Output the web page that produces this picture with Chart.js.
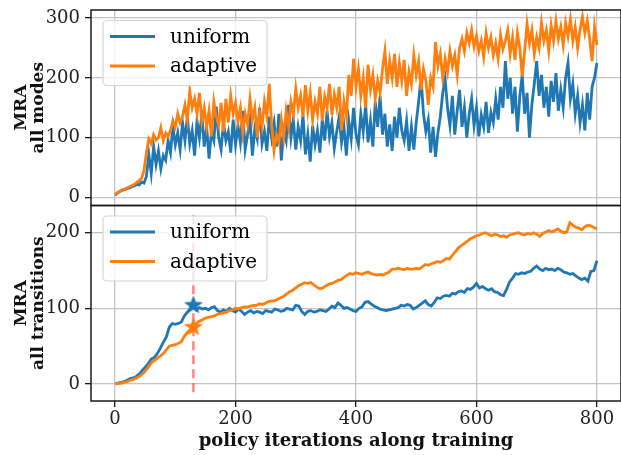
<!DOCTYPE html>
<html lang="en">
<head>
  <meta charset="utf-8" />
  <title>MRA during training</title>
  <script src="https://cdn.jsdelivr.net/npm/chart.js@4.4.1/dist/chart.umd.min.js"></script>
  <style>
    html, body { margin: 0; padding: 0; background: #fff; }
    #wrap { width: 621px; height: 455px; }
  </style>
</head>
<body>
<div id="wrap"><canvas id="c" width="621" height="455"></canvas></div>
<script>
// policy iterations: top panel sampled every 4, bottom panel every 5
const topStep = 4
const botStep = 5

// MRA, all modes (top panel)
const uniformModes = [
  4, 7, 10, 12, 13, 15, 16, 18, 19, 22, 21, 26, 24, 35, 72, 40, 85, 55, 78, 48,
  70, 62, 95, 75, 118, 88, 108, 80, 125, 95, 135, 90, 112, 70, 128, 100, 140, 85, 118, 65,
  110, 95, 152, 100, 80, 125, 95, 110, 75, 130, 88, 120, 92, 145, 80, 105, 130, 70, 115, 98,
  150, 90, 110, 78, 135, 100, 125, 85, 140, 62, 112, 95, 155, 100, 130, 80, 118, 95, 138, 72,
  105, 60, 120, 88, 112, 75, 130, 95, 145, 102, 125, 82, 110, 135, 92, 118, 70, 128, 98, 150,
  105, 88, 140, 110, 155, 92, 128, 85, 160, 118, 170, 105, 140, 85, 122, 78, 135, 100, 150, 112,
  95, 128, 78, 118, 80, 125, 160, 202, 140, 110, 130, 75, 118, 68, 108, 135, 175, 198, 150, 120,
  170, 105, 145, 180, 118, 150, 100, 140, 165, 120, 150, 102, 138, 118, 160, 108, 142, 125, 165, 130,
  185, 150, 228, 165, 200, 140, 185, 110, 170, 205, 140, 175, 100, 155, 190, 228, 170, 205, 150, 185,
  135, 195, 160, 208, 145, 180, 150, 200, 225, 165, 190, 140, 170, 125, 155, 112, 175, 130, 185, 200,
  225
]
const adaptiveModes = [
  5, 8, 11, 13, 14, 16, 18, 20, 22, 25, 28, 32, 45, 75, 98, 90, 105, 96, 100, 117,
  95, 108, 102, 112, 128, 118, 140, 125, 135, 155, 130, 178, 150, 165, 140, 175, 128, 150, 118, 145,
  102, 160, 135, 120, 158, 110, 165, 125, 170, 140, 158, 128, 150, 108, 140, 122, 165, 130, 150, 100,
  142, 118, 160, 135, 190, 120, 78, 105, 92, 130, 100, 145, 118, 160, 140, 182, 150, 170, 135, 188,
  145, 175, 130, 160, 140, 185, 128, 168, 150, 190, 138, 172, 150, 185, 112, 160, 135, 205, 170, 232,
  185, 215, 170, 200, 150, 222, 180, 205, 165, 195, 175, 215, 245, 190, 228, 200, 240, 185, 225, 195,
  230, 170, 210, 190, 238, 205, 228, 180, 215, 195, 155, 200, 185, 260, 220, 240, 200, 232, 210, 245,
  220, 238, 205, 250, 265, 245, 275, 258, 280, 252, 270, 245, 262, 235, 275, 250, 268, 238, 258, 232,
  272, 248, 262, 280, 240, 268, 230, 275, 250, 202, 245, 290, 258, 280, 240, 268, 250, 292, 262, 280,
  245, 288, 262, 295, 265, 285, 255, 292, 270, 298, 262, 285, 250, 280, 302, 275, 295, 265, 228, 285,
  255
]

// MRA, all transitions (bottom panel)
const uniformTrans = [
  0, 1, 2, 3, 5, 7, 8, 10, 13, 18, 22, 27, 33, 35, 40, 47, 55, 62, 75, 80,
  79, 80, 82, 90, 95, 100, 104, 98, 101, 99, 100, 98, 101, 102, 97, 95, 98, 96, 100, 97,
  95, 99, 96, 92, 95, 97, 94, 96, 95, 93, 97, 96, 95, 99, 98, 96, 97, 100, 99, 98,
  104, 103, 96, 92, 96, 97, 95, 96, 98, 97, 96, 99, 103, 101, 107, 104, 100, 101, 99, 97,
  96, 100, 102, 108, 109, 106, 103, 101, 99, 98, 97, 98, 99, 100, 101, 104, 103, 105, 104, 99,
  101, 104, 107, 110, 105, 103, 108, 114, 113, 116, 117, 116, 120, 119, 122, 123, 121, 126, 125, 128,
  133, 127, 129, 126, 124, 126, 122, 121, 118, 117, 125, 135, 140, 146, 145, 147, 146, 148, 149, 153,
  156, 152, 150, 153, 151, 152, 150, 153, 151, 148, 147, 145, 146, 143, 140, 138, 140, 136, 149, 150,
  163
]
const adaptiveTrans = [
  0, 1, 1, 2, 3, 5, 6, 8, 10, 13, 17, 22, 28, 31, 34, 37, 40, 45, 50, 51,
  52, 54, 56, 63, 68, 72, 75, 80, 83, 85, 87, 88, 89, 90, 92, 93, 94, 95, 97, 98,
  100, 99, 101, 102, 102, 103, 104, 104, 106, 105, 107, 109, 110, 110, 112, 114, 116, 119, 122, 124,
  127, 130, 132, 134, 133, 134, 131, 128, 126, 127, 130, 132, 133, 135, 137, 138, 141, 144, 146, 145,
  147, 146, 145, 147, 148, 146, 145, 144, 145, 144, 146, 148, 152, 152, 153, 152, 151, 153, 152, 152,
  153, 152, 155, 158, 157, 159, 160, 162, 161, 163, 166, 165, 170, 175, 180, 183, 186, 189, 192, 194,
  196, 197, 199, 200, 198, 196, 198, 197, 195, 196, 194, 197, 198, 199, 200, 198, 197, 199, 198, 200,
  198, 195, 199, 201, 203, 201, 203, 205, 202, 200, 201, 213, 210, 207, 206, 204, 208, 210, 209, 207,
  205
]

// switch point marked in the bottom panel
const switchIter = 130
const switchUniform = 104
const switchAdaptive = 75
const switchSpan = [-11, 224]

const xTicks = [0, 200, 400, 600, 800]
const topTicks = [0, 100, 200, 300]
const botTicks = [0, 100, 200]
const seriesNames = ['uniform', 'adaptive']

const BLUE = '#1f77b4'
const ORANGE = '#ff7f0e'
const SERIF = "'DejaVu Serif', 'Liberation Serif', serif"

const pts = (arr, step) => arr.map((v, i) => ({ x: i * step, y: v }))

function starImage(color, r) {
  const c = document.createElement('canvas')
  const s = Math.ceil(r * 2 + 2)
  c.width = s; c.height = s
  const g = c.getContext('2d')
  g.beginPath()
  for (let i = 0; i < 10; i++) {
    const rad = i % 2 === 0 ? r : r * 0.42
    const a = -Math.PI / 2 + i * Math.PI / 5
    const px = s / 2 + rad * Math.cos(a), py = s / 2 + rad * Math.sin(a)
    if (i === 0) g.moveTo(px, py); else g.lineTo(px, py)
  }
  g.closePath()
  g.fillStyle = color
  g.fill()
  return c
}

const line = (data, color, axis, order) => ({
  data, borderColor: color, backgroundColor: color, borderWidth: 2.8,
  pointRadius: 0, tension: 0, yAxisID: axis, order,
})

// frame round each panel + legend boxes inside the panels
const panels = {
  id: 'panels',
  afterDraw(chart) {
    const { ctx, chartArea: ca } = chart
    const sets = [chart.scales.yTop, chart.scales.yBot]
    ctx.save()
    for (const s of sets) {
      const bx = ca.left + 12, by = s.top + 10.5, bw = 164, bh = 65, r = 4
      ctx.beginPath()
      ctx.moveTo(bx + r, by)
      ctx.arcTo(bx + bw, by, bx + bw, by + bh, r)
      ctx.arcTo(bx + bw, by + bh, bx, by + bh, r)
      ctx.arcTo(bx, by + bh, bx, by, r)
      ctx.arcTo(bx, by, bx + bw, by, r)
      ctx.closePath()
      ctx.fillStyle = 'rgba(255,255,255,0.8)'
      ctx.fill()
      ctx.strokeStyle = '#d6d6d6'
      ctx.lineWidth = 1.2
      ctx.stroke()
      ;[BLUE, ORANGE].forEach((col, i) => {
        const yy = by + 16 + i * 29.5
        ctx.beginPath()
        ctx.moveTo(bx + 7, yy); ctx.lineTo(bx + 52, yy)
        ctx.strokeStyle = col; ctx.lineWidth = 2.8
        ctx.stroke()
        ctx.fillStyle = '#000'
        ctx.font = '20px ' + SERIF
        ctx.textBaseline = 'middle'
        ctx.fillText(seriesNames[i], bx + 67, yy + 1)
      })
      ctx.strokeStyle = '#1a1a1a'
      ctx.lineWidth = 1.5
      ctx.strokeRect(ca.left, s.top, ca.right - ca.left, s.bottom - s.top)
    }
    ctx.restore()
  },
}

const tickSet = (list) => (scale) => { scale.ticks = list.map((v) => ({ value: v })) }
const fitY = (s) => { s.width = 91; s.paddingTop = 0; s.paddingBottom = 0 }
const gridOpts = { color: '#c4c4c4', lineWidth: 1.3, tickColor: '#1a1a1a', tickLength: 6 }
const tickFont = { family: SERIF, size: 18 }
const titleFont = { family: SERIF, size: 17, weight: 'bold', lineHeight: 1.0 }

new Chart(document.getElementById('c'), {
  type: 'line',
  data: {
    datasets: [
      line(pts(uniformModes, topStep), BLUE, 'yTop', 5),
      line(pts(adaptiveModes, topStep), ORANGE, 'yTop', 4),
      line(pts(uniformTrans, botStep), BLUE, 'yBot', 3),
      line(pts(adaptiveTrans, botStep), ORANGE, 'yBot', 2),
      {
        data: [{ x: switchIter, y: switchSpan[0] }, { x: switchIter, y: switchSpan[1] }],
        borderColor: 'rgba(255,0,0,0.5)', borderWidth: 2.4, borderDash: [9, 5],
        pointRadius: 0, yAxisID: 'yBot', order: 1,
      },
      {
        data: [{ x: switchIter, y: switchUniform }],
        pointStyle: starImage(BLUE, 10), pointRadius: 10, showLine: false, yAxisID: 'yBot', order: 0,
      },
      {
        data: [{ x: switchIter, y: switchAdaptive }],
        pointStyle: starImage(ORANGE, 10), pointRadius: 10, showLine: false, yAxisID: 'yBot', order: 0,
      },
    ],
  },
  options: {
    responsive: false,
    animation: false,
    devicePixelRatio: 1,
    layout: { autoPadding: false, padding: { top: 10, right: -2, bottom: 0, left: 0 } },
    plugins: { legend: { display: false }, tooltip: { enabled: false } },
    scales: {
      x: {
        type: 'linear', min: -40, max: 840,
        afterBuildTicks: tickSet(xTicks),
        afterFit: (s) => { s.height = 54; s.paddingLeft = 0; s.paddingRight = 0 },
        grid: gridOpts,
        border: { display: false },
        ticks: { color: '#222', font: tickFont, padding: 2, maxRotation: 0 },
        title: {
          display: true, text: 'policy iterations along training', color: '#111',
          font: { family: SERIF, size: 18, weight: 'bold' }, padding: { top: 0, bottom: 3 },
        },
      },
      // first stacked axis is laid out at the bottom
      yBot: {
        type: 'linear', position: 'left', stack: 'panels', stackWeight: 1,
        min: -22.5, max: 236,
        afterBuildTicks: tickSet(botTicks),
        afterFit: fitY,
        grid: gridOpts,
        border: { display: false },
        ticks: { color: '#222', font: tickFont, padding: 5 },
        title: {
          display: true, text: ['MRA', 'all transitions'], color: '#111',
          font: titleFont, padding: { top: 13 },
        },
      },
      yTop: {
        type: 'linear', position: 'left', stack: 'panels', stackWeight: 1,
        min: -13.5, max: 313.5,
        afterBuildTicks: tickSet(topTicks),
        afterFit: fitY,
        grid: gridOpts,
        border: { display: false },
        ticks: { color: '#222', font: tickFont, padding: 5 },
        title: {
          display: true, text: ['MRA', 'all modes'], color: '#111',
          font: titleFont, padding: { top: 13 },
        },
      },
    },
  },
  plugins: [panels],
})
</script>
</body>
</html>
